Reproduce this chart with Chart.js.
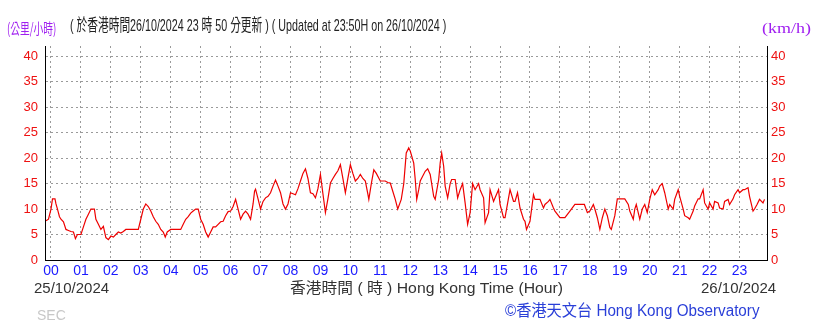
<!DOCTYPE html>
<html>
<head>
<meta charset="utf-8"/>
<title>SEC wind speed</title>
<script src="https://cdn.jsdelivr.net/npm/chart.js@4.4.0/dist/chart.umd.min.js"></script>
<style>
  body { margin: 0; background: #fff; }
  #wrap { position: relative; width: 819px; height: 323px; overflow: hidden;
          font-family: "Liberation Sans", "Noto Sans CJK TC", sans-serif; }
  #wrap canvas { position: absolute; left: 0; top: 0; }
  .txt { position: absolute; white-space: nowrap; line-height: 1; transform-origin: 0 50%; }
</style>
<script>
// minutes after 00:00 on 25/10/2024 (negative = previous evening)
const minutes = [
  -10, -5, 0, 3, 8, 10, 13, 17, 20, 25, 30, 35, 40, 45, 49, 53, 60, 65, 70, 75,
  80, 87, 90, 95, 100, 105, 110, 115, 120, 125, 130, 135, 140, 145, 150, 160, 170, 175, 180, 185,
  190, 195, 200, 205, 210, 215, 220, 225, 229, 233, 240, 250, 260, 265, 270, 275, 280, 285, 290, 295,
  300, 305, 310, 315, 320, 325, 330, 335, 340, 345, 350, 355,
  360, 365, 370, 375, 380, 385, 390, 395, 400, 405, 408, 410, 415, 420, 425, 430, 435, 440,
  445, 450, 455, 460, 465, 470, 475, 480, 485, 490, 495, 500, 505, 510, 515, 520, 525, 530,
  535, 540, 545, 550, 555, 560, 565, 570, 575, 580, 585, 590, 595, 600, 605, 610, 615, 620,
  625, 630, 635, 637, 642, 647, 652, 660, 665, 670, 675, 680, 685, 690, 695, 702,
  707, 712, 717, 720, 727, 730, 733, 737, 740, 750, 755, 760, 767, 770, 777, 780, 783, 787,
  790, 795, 800, 803, 810, 815, 820, 825, 830, 835, 840, 845, 850, 857, 860, 867, 870, 877,
  880, 887, 890, 897, 900, 907, 910, 920, 927, 930, 935, 940, 947, 950, 953, 960, 967, 970,
  980, 987, 990, 997, 1000, 1007, 1010, 1020, 1030, 1040, 1050, 1060, 1069, 1075,
  1080, 1087, 1090, 1095, 1100, 1105, 1110, 1115, 1120, 1123, 1130, 1135, 1140, 1150, 1157, 1160,
  1167, 1170, 1173, 1180, 1185, 1190, 1195, 1200, 1205, 1210, 1217, 1220, 1225, 1230, 1237, 1240,
  1247, 1250, 1257, 1260, 1267, 1270, 1277, 1280, 1287, 1290, 1297, 1300, 1307, 1310, 1317, 1320,
  1327, 1330, 1337, 1340, 1347, 1350, 1357, 1360, 1367, 1370, 1377, 1380, 1387, 1390, 1397, 1400,
  1407, 1410, 1415, 1420, 1427, 1430
];

// wind speed (km/h)
const speeds = [
  7.7, 8, 10, 12, 12, 11, 10, 8.5, 8, 7.5, 6, 5.8, 5.6, 5.5, 4.2, 5, 5, 6.5, 8, 9,
  10, 10, 8, 7, 6, 6.6, 4.4, 4, 4.7, 4.5, 5, 5.5, 5.3, 5.6, 6, 6, 6, 6, 8, 10,
  11, 10.5, 9.6, 8.5, 7.6, 7, 6, 5.5, 4.5, 5.5, 6, 6, 6, 7, 8, 8.5, 9.2, 9.6, 10, 10,
  8, 7, 5.5, 4.5, 5.5, 6.5, 6.5, 7, 7.5, 7.6, 8.7, 9.5,
  9.6, 10.5, 11.9, 10, 8, 9, 9.6, 9, 8, 11, 13.5, 13.9, 12, 10, 11.5, 12.2, 12.5, 13.2,
  14.5, 15.7, 14.5, 13.2, 11, 10, 11, 13.2, 13, 12.8, 14, 15.5, 17, 17.9, 16, 13.2, 13, 12.2,
  14, 16.8, 13, 9.3, 12, 15.1, 16, 16.8, 17.5, 18.7, 16, 13.2, 16, 18.7, 17, 15.5, 16, 16.8,
  16, 15.5, 13, 11.9, 15, 17.7, 17, 15.5, 15.5, 15.5, 15.2, 15.1, 13.5, 11.9, 10, 11.9,
  15, 21, 22, 21.4, 19, 15.8, 11.9, 13.8, 15.5, 17.4, 17.9, 16.8, 12.5, 11.9, 15.8, 19, 21, 18.4,
  14.5, 12.2, 15, 15.8, 15.8, 12.2, 13.8, 15, 11.2, 7, 9.3, 15, 13.8, 15, 13.8, 12.2, 7.3, 9.3,
  13.8, 11.5, 12.2, 13.8, 10.9, 8.3, 8.3, 13.8, 11.5, 11.5, 13.2, 10.2, 8, 7.6, 6, 7.6, 12.8, 11.9,
  11.9, 10.2, 10.9, 11.5, 11.9, 10.2, 9.6, 8.3, 8.3, 9.6, 10.9, 10.9, 10.9, 9.3,
  9.6, 10.9, 10, 8.3, 6, 8.3, 10, 8.7, 6.4, 6, 8.7, 12, 12, 12, 10.9, 9.6,
  8, 10, 10.9, 8, 10, 10.9, 9.3, 11.9, 13.8, 12.8, 13.8, 14.5, 15, 13.2, 10, 10.9,
  10, 11.9, 13.8, 12.5, 10, 8.7, 8.3, 8, 9.6, 10.6, 12, 12, 13.8, 11.2, 10, 11.2,
  10, 11.5, 11.2, 10.2, 10, 11.5, 11.9, 10.9, 12, 12.8, 13.8, 13.2, 13.8, 13.8, 14.2, 12.5,
  9.6, 10, 10.9, 11.9, 11.2, 11.9
];

const hourLabels = ['00','01','02','03','04','05','06','07','08','09','10','11',
                    '12','13','14','15','16','17','18','19','20','21','22','23'];
const speedTicks = [0, 5, 10, 15, 20, 25, 30, 35, 40];
</script>
</head>
<body>
<div id="wrap">
  <canvas id="windChart" width="819" height="323"></canvas>
  <div class="txt" style="left:7px; top:20px; font-size:15px; color:#a020f0; font-family:'Noto Sans CJK TC', sans-serif; transform:scaleX(0.65);">(公里/小時)</div>
  <div class="txt" style="left:70px; top:17px; font-size:17px; color:#222; transform:scaleX(0.63);">( 於香港時間26/10/2024 23 時 50 分更新 ) ( Updated at 23:50H on 26/10/2024 )</div>
  <div class="txt" style="left:762px; top:21px; font-size:15px; color:#a020f0; font-family:'Liberation Serif', serif; transform:scaleX(1.2);">(km/h)</div>
  <div class="txt" style="left:34px; top:280px; font-size:15px; color:#333;">25/10/2024</div>
  <div class="txt" style="left:290px; top:280px; font-size:15px; color:#333; transform:scaleX(1.05);">香港時間 ( 時 ) Hong Kong Time (Hour)</div>
  <div class="txt" style="left:701px; top:280px; font-size:15px; color:#333;">26/10/2024</div>
  <div class="txt" style="left:37px; top:308px; font-size:14px; color:#c8c8c8;">SEC</div>
  <div class="txt" style="left:505px; top:303px; font-size:16px; color:#2a3fd8; transform:scaleX(0.95);">©香港天文台 Hong Kong Observatory</div>
</div>
<script>
const tickFont = { family: "'Liberation Sans', sans-serif", size: 13 };

const points = minutes.map((m, i) => ({ x: m, y: speeds[i] }));

new Chart(document.getElementById('windChart'), {
  type: 'line',
  data: {
    datasets: [{
      data: points,
      borderColor: '#ee0000',
      borderWidth: 1.2,
      pointRadius: 0,
      tension: 0,
      fill: false
    }]
  },
  options: {
    responsive: false,
    animation: false,
    events: [],
    layout: { padding: { top: 46, left: 0, right: 0, bottom: 0 } },
    plugins: { legend: { display: false }, tooltip: { enabled: false } },
    scales: {
      x: {
        type: 'linear',
        min: -12,
        max: 1435,
        afterBuildTicks: s => { s.ticks = hourLabels.map((h, i) => ({ value: i * 60 })); },
        afterFit: s => { s.height = 63; },
        ticks: {
          color: '#1a1aff',
          font: { family: tickFont.family, size: 14 },
          padding: 3,
          maxRotation: 0,
          autoSkip: false,
          callback: (v, i) => hourLabels[i]
        },
        grid: { color: '#9a9a9a', drawTicks: false },
        border: { display: true, color: '#000', width: 1, dash: [2, 3] }
      },
      y: {
        position: 'left',
        min: 0,
        max: 42,
        afterBuildTicks: s => { s.ticks = speedTicks.map(v => ({ value: v })); },
        afterFit: s => { s.width = 45; },
        ticks: { color: '#ee1111', font: tickFont, padding: 7 },
        grid: { color: '#9a9a9a', drawTicks: false },
        border: { display: true, color: '#000', width: 1, dash: [2, 3] }
      },
      y2: {
        position: 'right',
        min: 0,
        max: 42,
        afterBuildTicks: s => { s.ticks = speedTicks.map(v => ({ value: v })); },
        afterFit: s => { s.width = 52; },
        ticks: { color: '#ee1111', font: tickFont, padding: 4 },
        grid: { display: false, drawTicks: false },
        border: { display: true, color: '#000', width: 1 }
      }
    }
  },
  plugins: [{
    // solid black frame on left, right and bottom, drawn over the dotted grid
    id: 'frame',
    afterDraw(chart) {
      const { ctx, chartArea: a } = chart;
      ctx.save();
      ctx.strokeStyle = '#000';
      ctx.lineWidth = 1;
      ctx.setLineDash([]);
      ctx.beginPath();
      ctx.moveTo(a.left + 0.5, a.top);
      ctx.lineTo(a.left + 0.5, a.bottom + 0.5);
      ctx.lineTo(a.right + 0.5, a.bottom + 0.5);
      ctx.lineTo(a.right + 0.5, a.top);
      ctx.stroke();
      ctx.restore();
    }
  }]
});
</script>
</body>
</html>
